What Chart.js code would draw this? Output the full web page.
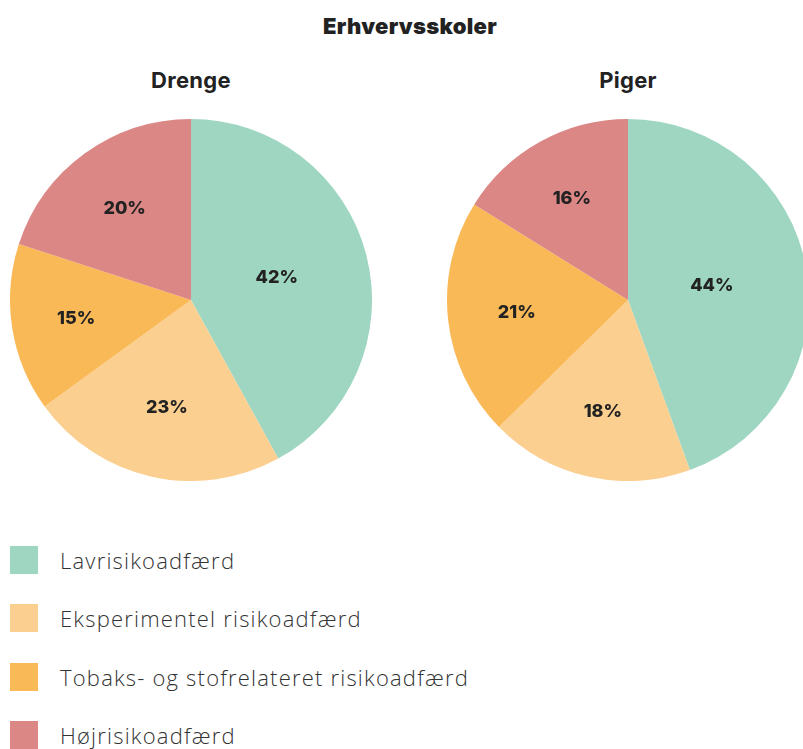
<!DOCTYPE html>
<html>
<head>
<meta charset="utf-8">
<script src="https://cdn.jsdelivr.net/npm/chart.js@4"></script>
<style>
	html, body {
		margin: 0;
		padding: 0;
		background: #fff;
	}
	body {
		position: relative;
		width: 803px;
		height: 749px;
		overflow: hidden;
		font-family: 'Lato', sans-serif;
		color: #222;
	}
	.title {
		position: absolute;
		left: 0;
		top: 13px;
		width: 820px;
		text-align: center;
		font-family: 'Inter', sans-serif;
		font-weight: 900;
		font-size: 22px;
		letter-spacing: 0.3px;
	}
	.subtitle {
		position: absolute;
		top: 67px;
		width: 200px;
		text-align: center;
		font-family: 'Inter', sans-serif;
		font-weight: 700;
		font-size: 22px;
		letter-spacing: 0.3px;
	}
	canvas {
		position: absolute;
		top: 119px;
	}
	#legend {
		position: absolute;
		left: 10px;
		top: 546px;
	}
	.item {
		height: 58.4px;
		display: flex;
		align-items: flex-start;
	}
	.box {
		width: 28px;
		height: 28px;
		margin-right: 22px;
	}
	.item span {
		font-family: 'Open Sans', sans-serif;
		font-weight: 300;
		font-size: 22px;
		letter-spacing: 1.2px;
		line-height: 28px;
		color: #333;
	}
</style>
</head>
<body>
	<div class="title">Erhvervsskoler</div>
	<div class="subtitle" style="left: 91px">Drenge</div>
	<div class="subtitle" style="left: 528px">Piger</div>
	<canvas id="chart1" width="362" height="362" style="left: 10px"></canvas>
	<canvas id="chart2" width="362" height="362" style="left: 447px"></canvas>
	<div id="legend"></div>

<script>
const categories = [
	'Lavrisikoadfærd',
	'Eksperimentel risikoadfærd',
	'Tobaks- og stofrelateret risikoadfærd',
	'Højrisikoadfærd',
]
const drengeValues = [42, 23, 15, 20]
const pigerValues = [44, 18, 21, 16]
const sliceColors = [
	'rgba(159, 214, 193, 1)',
	'rgba(251, 207, 143, 1)',
	'rgba(250, 185, 87, 1)',
	'rgba(219, 135, 133, 1)',
]

// writes the percentage at the centroid of each slice
const percentLabels = {
	id: 'percentLabels',
	afterDatasetsDraw(chart) {
		const ctx = chart.ctx
		const values = chart.data.datasets[0].data
		ctx.save()
		ctx.font = '800 18px Inter, sans-serif'
		ctx.fillStyle = '#222'
		ctx.textAlign = 'center'
		ctx.textBaseline = 'middle'
		chart.getDatasetMeta(0).data.forEach((arc, i) => {
			const { x, y, startAngle, endAngle, outerRadius } = arc.getProps(['x', 'y', 'startAngle', 'endAngle', 'outerRadius'])
			const half = (endAngle - startAngle) / 2
			const mid = startAngle + half
			const dist = (2 * outerRadius * Math.sin(half)) / (3 * half)
			ctx.fillText(values[i] + '%', x + Math.cos(mid) * dist, y + Math.sin(mid) * dist)
		})
		ctx.restore()
	},
}

function printPie(id, values) {
	const chartData = {
		labels: categories,
		datasets: [
			{
				data: values,
				backgroundColor: sliceColors,
				borderWidth: 0,
			},
		],
	}

	const optionsData = {
		responsive: false,
		animation: false,
		layout: { padding: 0 },
		plugins: {
			legend: { display: false },
			tooltip: { enabled: false },
		},
	}

	new Chart(id, { type: 'pie', data: chartData, options: optionsData, plugins: [percentLabels] })
}

function printLegend() {
	const legend = document.getElementById('legend')
	categories.forEach((name, i) => {
		const item = document.createElement('div')
		item.className = 'item'
		item.innerHTML = '<div class="box" style="background:' + sliceColors[i] + '"></div><span>' + name + '</span>'
		legend.appendChild(item)
	})
}

printPie('chart1', drengeValues)
printPie('chart2', pigerValues)
printLegend()
</script>
</body>
</html>
